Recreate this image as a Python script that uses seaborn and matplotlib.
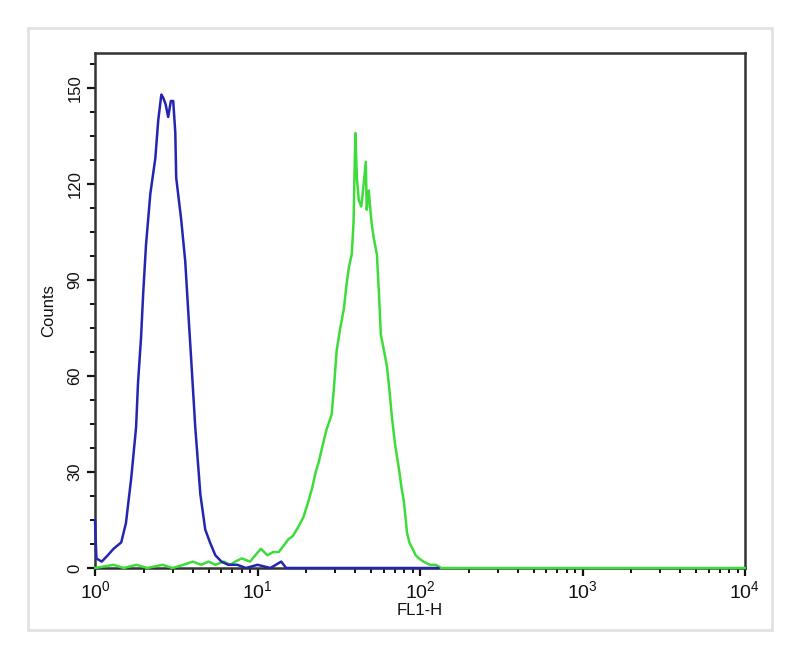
import matplotlib
matplotlib.use("Agg")
import matplotlib.pyplot as plt
from matplotlib.patches import Rectangle
from matplotlib.ticker import MultipleLocator, LogLocator, NullFormatter
import seaborn as sns
import pandas as pd
import numpy as np

# Control histogram (blue)
blue_x = [1.0, 1.02, 1.1, 1.2, 1.3, 1.45, 1.55, 1.6, 1.67, 1.79, 1.84, 1.92, 1.98,
          2.06, 2.19, 2.35, 2.45, 2.56, 2.63, 2.72, 2.82, 2.93, 3.03, 3.12, 3.16,
          3.39, 3.59, 3.75, 3.91, 4.14, 4.45, 4.77, 5.1, 5.5, 6.0, 6.6, 7.5, 8.5,
          10.0, 12.0, 14.0, 15.0, 130.0]
blue_y = [15, 3, 2, 4, 6, 8, 14, 20, 28, 44, 58, 72, 86,
          101, 117, 128, 140, 148, 147, 145, 141, 146, 146, 136, 122,
          109, 96, 80, 65, 44, 23, 12, 8, 4, 2, 1, 1, 0,
          1, 0, 2, 0, 0]

# Stained sample histogram (green)
green_x = [1.0, 1.3, 1.5, 1.8, 2.1, 2.6, 3.0, 3.5, 4.0, 4.5, 5.0, 5.5, 6.2, 6.8,
           7.3, 8.0, 9.0, 9.7, 10.5, 11.5, 12.5, 13.5, 14.5, 15.5, 16.5, 17.9,
           19.2, 20.6, 21.7, 22.8, 23.8, 24.8, 26.5, 28.6, 29.5, 30.7, 32.3, 34.0,
           35.2, 36.5, 38.0, 39.0, 40.0, 40.9, 41.5, 42.0, 43.5, 45.0, 46.4, 47.0,
           48.4, 49.5, 50.6, 52.0, 54.3, 56.0, 57.4, 60.0, 62.6, 65.0, 67.2, 70.5,
           74.2, 77.0, 79.5, 83.2, 86.0, 90.0, 94.0, 98.6, 105.0, 115.0, 125.0,
           135.0, 10000.0]
green_y = [0, 1, 0, 1, 0, 1, 0, 1, 2, 1, 2, 1, 2, 1,
           2, 3, 2, 4, 6, 4, 5, 5, 7, 9, 10, 13,
           16, 21, 25, 30, 33, 37, 43, 48, 56, 68, 75, 81,
           88, 94, 98, 108, 136, 122, 118, 115, 113, 120, 127, 112,
           118, 112, 107, 103, 98, 85, 73, 68, 63, 55, 47, 38,
           31, 25, 21, 11, 8, 6, 4, 3, 2, 1, 1,
           0, 0]

y_ticks = [0, 30, 60, 90, 120, 150]
x_ticks = [1, 10, 100, 1000, 10000]
x_tick_labels = [r"$10^0$", r"$10^1$", r"$10^2$", r"$10^3$", r"$10^4$"]

sns.set_style("white")
plt.rcParams["font.family"] = ["Liberation Sans", "DejaVu Sans"]
plt.rcParams["mathtext.fontset"] = "custom"
plt.rcParams["mathtext.rm"] = "Liberation Sans"

fig = plt.figure(figsize=(8, 6.56), dpi=100)
# light grey outer frame
fig.patches.append(Rectangle((28 / 800, 26 / 656), 744 / 800, 602 / 656,
                             transform=fig.transFigure, fill=False,
                             edgecolor="#e2e2e2", linewidth=2))
ax = fig.add_axes([95 / 800, 88 / 656, 650 / 800, 515 / 656])

green_df = pd.DataFrame({"x": green_x, "y": green_y})
blue_df = pd.DataFrame({"x": blue_x, "y": blue_y})
sns.lineplot(data=green_df, x="x", y="y", ax=ax, color="#3ddc3a", linewidth=1.8,
             sort=False, clip_on=False, zorder=3)
sns.lineplot(data=blue_df, x="x", y="y", ax=ax, color="#2525b0", linewidth=1.8,
             sort=False, clip_on=False, zorder=4)

ax.set_xscale("log")
ax.set_xlim(1, 10000)
ax.set_ylim(0, 161)
ax.set_xticks(x_ticks)
ax.set_xticklabels(x_tick_labels, fontsize=14, color="#111111")
ax.xaxis.set_minor_locator(LogLocator(base=10, subs=np.arange(2, 10)))
ax.xaxis.set_minor_formatter(NullFormatter())
ax.set_yticks(y_ticks)
ax.set_yticklabels([str(v) for v in y_ticks], fontsize=12, rotation=90,
                   va="center", color="#111111")
ax.yaxis.set_minor_locator(MultipleLocator(7.5))

ax.tick_params(which="major", direction="out", length=6, width=1.6, color="#111111",
               left=True, bottom=True, pad=3)
ax.tick_params(which="minor", direction="out", length=3.5, width=1.4, color="#111111",
               left=True, bottom=True)
for side in ["top", "right", "left", "bottom"]:
    ax.spines[side].set_color("#333333")
    ax.spines[side].set_linewidth(1.8)

ax.set_xlabel("FL1-H", fontsize=12, labelpad=0, color="#111111")
ax.set_ylabel("Counts", fontsize=12, labelpad=8, color="#111111")

fig.savefig("out.png", dpi=100)
